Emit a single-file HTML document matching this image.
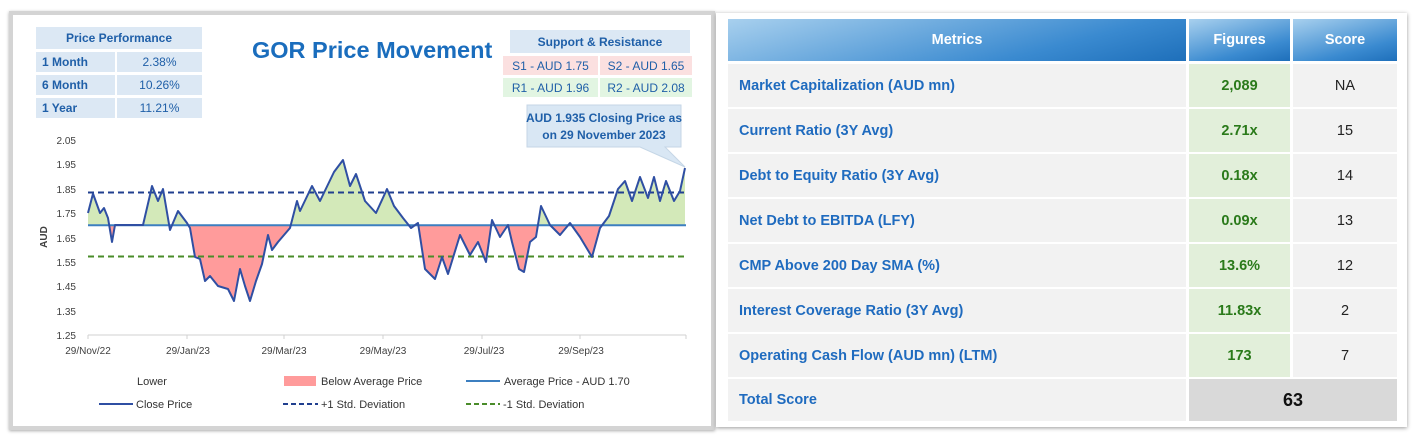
<!DOCTYPE html>
<html><head><meta charset="utf-8"><style>
body{margin:0;width:1414px;height:439px;background:#fff;position:relative;overflow:hidden;font-family:"Liberation Sans",sans-serif}
.abs{position:absolute;box-sizing:border-box}
.cell{position:absolute;box-sizing:border-box;display:flex;align-items:center;font-size:12px}
.tbl .c{position:absolute;box-sizing:border-box;display:flex;align-items:center;font-size:14.5px;font-weight:bold}
</style></head><body>
<div class="abs" style="left:9px;top:11px;width:706px;height:419px;border:4px solid #d4d4d4;box-shadow:0 1px 3px #aaa;background:#fff"></div>
<div class="cell" style="left:36px;top:27px;width:166px;height:22px;background:#dce8f4;color:#1f5fa8;font-weight:bold;justify-content:center">Price Performance</div>
<div class="cell" style="left:36px;top:52px;width:79px;height:20px;background:#dce8f4;color:#1f5fa8;font-weight:bold;padding-left:6px">1 Month</div>
<div class="cell" style="left:117px;top:52px;width:85px;height:20px;background:#dce8f4;color:#1f5fa8;justify-content:center">2.38%</div>
<div class="cell" style="left:36px;top:75px;width:79px;height:20px;background:#dce8f4;color:#1f5fa8;font-weight:bold;padding-left:6px">6 Month</div>
<div class="cell" style="left:117px;top:75px;width:85px;height:20px;background:#dce8f4;color:#1f5fa8;justify-content:center">10.26%</div>
<div class="cell" style="left:36px;top:98px;width:79px;height:20px;background:#dce8f4;color:#1f5fa8;font-weight:bold;padding-left:6px">1 Year</div>
<div class="cell" style="left:117px;top:98px;width:85px;height:20px;background:#dce8f4;color:#1f5fa8;justify-content:center">11.21%</div>
<div class="abs" style="left:252px;top:37px;font-size:23.5px;font-weight:bold;color:#1a6dbd">GOR Price Movement</div>
<div class="cell" style="left:510px;top:30px;width:180px;height:23px;background:#dce8f4;color:#1f5fa8;font-weight:bold;justify-content:center">Support &amp; Resistance</div>
<div class="cell" style="left:503px;top:56px;width:95px;height:19px;background:#fbe0e0;color:#1f5fa8;justify-content:center">S1 - AUD 1.75</div>
<div class="cell" style="left:600px;top:56px;width:92px;height:19px;background:#fbe0e0;color:#1f5fa8;justify-content:center">S2 - AUD 1.65</div>
<div class="cell" style="left:503px;top:78px;width:95px;height:19px;background:#e2f5e2;color:#1f5fa8;justify-content:center">R1 - AUD 1.96</div>
<div class="cell" style="left:600px;top:78px;width:92px;height:19px;background:#e2f5e2;color:#1f5fa8;justify-content:center">R2 - AUD 2.08</div>
<svg class="abs" style="left:0;top:0" width="715" height="439">
<polygon points="527,105 681,105 681,147 665,147 685,167 640,147 527,147" fill="#d9e7f4" stroke="#c5d6e6"/>
<text x="604" y="122" font-size="12" font-weight="bold" fill="#1f5fa8" text-anchor="middle">AUD 1.935 Closing Price as</text>
<text x="604" y="139" font-size="12" font-weight="bold" fill="#1f5fa8" text-anchor="middle">on 29 November 2023</text>
<defs>
<clipPath id="up"><rect x="0" y="0" width="715" height="225.3"/></clipPath>
<clipPath id="dn"><rect x="0" y="225.3" width="715" height="200"/></clipPath>
</defs>
<g font-size="10" fill="#404040" text-anchor="end">
<text x="76" y="144">2.05</text><text x="76" y="168">1.95</text><text x="76" y="193">1.85</text><text x="76" y="217">1.75</text><text x="76" y="242">1.65</text><text x="76" y="266">1.55</text><text x="76" y="290">1.45</text><text x="76" y="315">1.35</text><text x="76" y="339">1.25</text>
</g>
<text x="47" y="237" font-size="10" font-weight="bold" fill="#404040" transform="rotate(-90 47 237)" text-anchor="middle">AUD</text>
<line x1="88" y1="335" x2="686" y2="335" stroke="#d0d0d0"/>
<g stroke="#d0d0d0"><line x1="88" y1="335" x2="88" y2="339"/><line x1="187" y1="335" x2="187" y2="339"/><line x1="284" y1="335" x2="284" y2="339"/><line x1="383" y1="335" x2="383" y2="339"/><line x1="482" y1="335" x2="482" y2="339"/><line x1="580" y1="335" x2="580" y2="339"/><line x1="686" y1="335" x2="686" y2="339"/></g>
<g font-size="10" fill="#404040" text-anchor="middle">
<text x="88" y="354">29/Nov/22</text><text x="188" y="354">29/Jan/23</text><text x="284" y="354">29/Mar/23</text><text x="383" y="354">29/May/23</text><text x="484" y="354">29/Jul/23</text><text x="581" y="354">29/Sep/23</text>
</g>
<g>
<polygon clip-path="url(#up)" fill="#d3e9b9" points="88,225.3 88,213 93,193.6 100,213 104,208 108,218 112,242 115,225 143,225 150,195 152,186 158,201 163,189 170,230 178,211 187,223 190,228 195,257 200,259 205,281 210,276 218,286 228,289 234,301 240,269 245,286 250,301 256,281 262,264 268,235 272,250 278,242 290,228 297,201 300,211 312,186 320,201 334,172 343,160 350,186 356,174 365,201 376,213 387,189 394,206 403,218 411,228 418,223 425,269 435,279 442,257 448,274 460,235 470,255 478,242 486,262 492,220 500,237 508,225 512,242 519,269 524,272 530,242 536,237 541,206 550,225 560,235 570,223 580,237 586,247 592,257 600,228 609,216 618,189 625,181 632,201 640,177 648,198 654,177 660,201 666,181 674,201 680,191 685,168 685,225.3"/>
<polygon clip-path="url(#dn)" fill="#ff9b9b" points="88,225.3 88,213 93,193.6 100,213 104,208 108,218 112,242 115,225 143,225 150,195 152,186 158,201 163,189 170,230 178,211 187,223 190,228 195,257 200,259 205,281 210,276 218,286 228,289 234,301 240,269 245,286 250,301 256,281 262,264 268,235 272,250 278,242 290,228 297,201 300,211 312,186 320,201 334,172 343,160 350,186 356,174 365,201 376,213 387,189 394,206 403,218 411,228 418,223 425,269 435,279 442,257 448,274 460,235 470,255 478,242 486,262 492,220 500,237 508,225 512,242 519,269 524,272 530,242 536,237 541,206 550,225 560,235 570,223 580,237 586,247 592,257 600,228 609,216 618,189 625,181 632,201 640,177 648,198 654,177 660,201 666,181 674,201 680,191 685,168 685,225.3"/>
<line x1="88" y1="192.5" x2="686" y2="192.5" stroke="#203f8f" stroke-width="2" stroke-dasharray="6,4"/>
<line x1="88" y1="256.5" x2="686" y2="256.5" stroke="#4a8c2a" stroke-width="2" stroke-dasharray="6,4"/>
<line x1="88" y1="225.3" x2="686" y2="225.3" stroke="#3c7fc0" stroke-width="2"/>
<polyline fill="none" stroke="#2f4fa3" stroke-width="2" stroke-linejoin="round" points="88,213 93,193.6 100,213 104,208 108,218 112,242 115,225 143,225 150,195 152,186 158,201 163,189 170,230 178,211 187,223 190,228 195,257 200,259 205,281 210,276 218,286 228,289 234,301 240,269 245,286 250,301 256,281 262,264 268,235 272,250 278,242 290,228 297,201 300,211 312,186 320,201 334,172 343,160 350,186 356,174 365,201 376,213 387,189 394,206 403,218 411,228 418,223 425,269 435,279 442,257 448,274 460,235 470,255 478,242 486,262 492,220 500,237 508,225 512,242 519,269 524,272 530,242 536,237 541,206 550,225 560,235 570,223 580,237 586,247 592,257 600,228 609,216 618,189 625,181 632,201 640,177 648,198 654,177 660,201 666,181 674,201 680,191 685,168"/>
</g>
<g font-size="11" fill="#333">
<text x="137" y="385">Lower</text>
<rect x="284" y="376" width="32" height="10" fill="#ff9b9b"/><text x="321" y="385">Below Average Price</text>
<line x1="466" y1="381" x2="500" y2="381" stroke="#3c7fc0" stroke-width="2"/><text x="504" y="385">Average Price - AUD 1.70</text>
<line x1="99" y1="404" x2="133" y2="404" stroke="#2f4fa3" stroke-width="2"/><text x="136" y="408">Close Price</text>
<line x1="283" y1="404" x2="318" y2="404" stroke="#203f8f" stroke-width="2" stroke-dasharray="5,3"/><text x="321" y="408">+1 Std. Deviation</text>
<line x1="466" y1="404" x2="500" y2="404" stroke="#4a8c2a" stroke-width="2" stroke-dasharray="5,3"/><text x="503" y="408">-1 Std. Deviation</text>
</g>
</svg>
<div class="abs" style="left:716px;top:13px;width:691px;height:414px;background:#fff;box-shadow:0 1px 4px #999"></div>
<div class="tbl">
<div class="c" style="left:728px;top:19px;width:458px;height:42px;background:linear-gradient(165deg,#a8d0ee,#3a8ad0 70%,#1e6fba);color:#fff;justify-content:center">Metrics</div>
<div class="c" style="left:1189px;top:19px;width:101px;height:42px;background:linear-gradient(165deg,#a8d0ee,#3a8ad0 70%,#1e6fba);color:#fff;justify-content:center">Figures</div>
<div class="c" style="left:1293px;top:19px;width:104px;height:42px;background:linear-gradient(165deg,#a8d0ee,#3a8ad0 70%,#1e6fba);color:#fff;justify-content:center">Score</div>
</div>
<div class="tbl" id="rows"></div>
<script>
var d=[["Market Capitalization (AUD mn)","2,089","NA"],["Current Ratio (3Y Avg)","2.71x","15"],["Debt to Equity Ratio (3Y Avg)","0.18x","14"],["Net Debt to EBITDA (LFY)","0.09x","13"],["CMP Above 200 Day SMA (%)","13.6%","12"],["Interest Coverage Ratio (3Y Avg)","11.83x","2"],["Operating Cash Flow (AUD mn) (LTM)","173","7"]];
var h="";for(var i=0;i<7;i++){var t=64+i*45;
h+='<div class="c" style="left:728px;top:'+t+'px;width:458px;height:43px;background:#f2f2f2;color:#1f6bbf;padding-left:11px">'+d[i][0]+'</div>';
h+='<div class="c" style="left:1189px;top:'+t+'px;width:101px;height:43px;background:#e2efda;color:#2a7a1a;justify-content:center">'+d[i][1]+'</div>';
h+='<div class="c" style="left:1293px;top:'+t+'px;width:104px;height:43px;background:#f2f2f2;color:#222;font-weight:normal;justify-content:center">'+d[i][2]+'</div>';}
h+='<div class="c" style="left:728px;top:379px;width:458px;height:42px;background:#f2f2f2;color:#1f6bbf;padding-left:11px">Total Score</div>';
h+='<div class="c" style="left:1189px;top:379px;width:208px;height:42px;background:#d9d9d9;color:#111;font-size:18px;justify-content:center">63</div>';
document.getElementById("rows").innerHTML=h;
</script>
</body></html>
